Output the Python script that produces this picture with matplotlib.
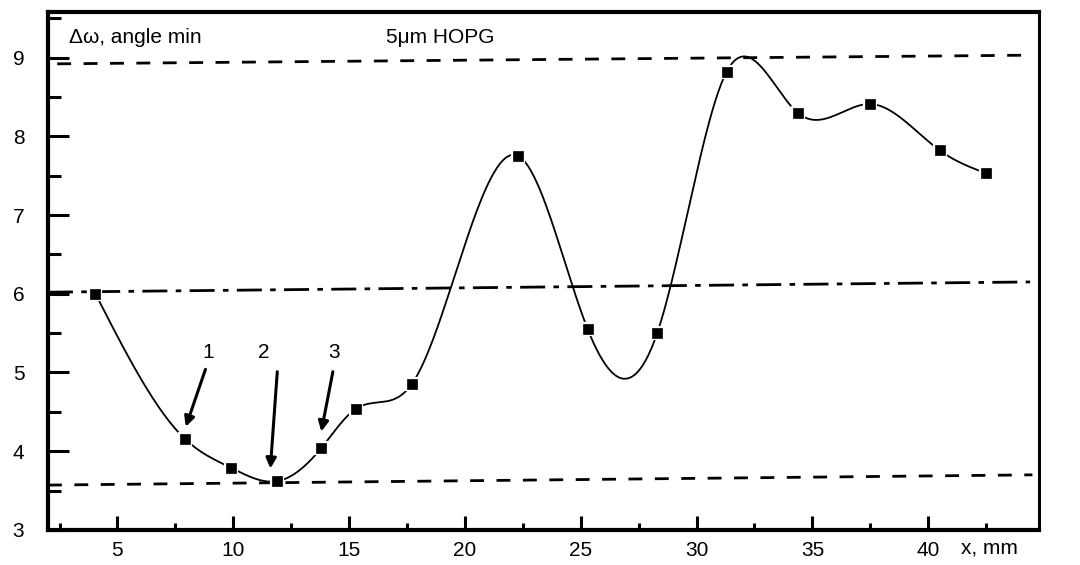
import numpy as np
import matplotlib
matplotlib.use('Agg')
import matplotlib.pyplot as plt
from matplotlib.ticker import MultipleLocator

# data
x_mm = [4.05, 7.9, 9.9, 11.9, 13.8, 15.3, 17.7, 22.3, 25.3, 28.3, 31.3, 34.4, 37.5, 40.5, 42.5]
d_omega = [6.0, 4.16, 3.79, 3.62, 4.04, 4.54, 4.85, 7.75, 5.55, 5.5, 8.82, 8.29, 8.41, 7.82, 7.53]

# reference lines (start, end levels; the scan is a little tilted)
upper_lvl = [8.92, 9.03]
mid_lvl = [6.02, 6.15]
lower_lvl = [3.57, 3.70]

arrow_labels = ['1', '2', '3']
arrow_tips = [(7.95, 4.31), (11.6, 3.78), (13.8, 4.25)]
arrow_tails = [(8.8, 5.04), (11.9, 5.01), (14.3, 5.01)]
label_pos = [(8.9, 5.25), (11.3, 5.25), (14.35, 5.25)]


def natural_spline(x, y, n=600):
    # plain natural cubic spline, just for drawing the smooth line
    x = np.asarray(x, float)
    y = np.asarray(y, float)
    k = len(x)
    h = np.diff(x)
    A = np.zeros((k, k))
    b = np.zeros(k)
    A[0, 0] = 1
    A[-1, -1] = 1
    for i in range(1, k - 1):
        A[i, i - 1] = h[i - 1]
        A[i, i] = 2 * (h[i - 1] + h[i])
        A[i, i + 1] = h[i]
        b[i] = 3 * ((y[i + 1] - y[i]) / h[i] - (y[i] - y[i - 1]) / h[i - 1])
    c = np.linalg.solve(A, b)
    xs = np.linspace(x[0], x[-1], n)
    idx = np.clip(np.searchsorted(x, xs) - 1, 0, k - 2)
    dx = xs - x[idx]
    bb = (y[idx + 1] - y[idx]) / h[idx] - h[idx] * (2 * c[idx] + c[idx + 1]) / 3
    dd = (c[idx + 1] - c[idx]) / (3 * h[idx])
    ys = y[idx] + bb * dx + c[idx] * dx ** 2 + dd * dx ** 3
    return xs, ys


plt.rcParams['font.family'] = ['Liberation Sans', 'DejaVu Sans']

fig = plt.figure(figsize=(10.8, 5.65), dpi=100)
ax = fig.add_axes([0.0444, 0.062, 0.918, 0.917])
ax.set_xlim(2.0, 44.8)
ax.set_ylim(3, 9.58)

# reference lines
ax.plot([2.4, 44.4], upper_lvl, color='black', lw=2, ls=(0, (5, 4.5)))
ax.plot([2.0, 44.4], mid_lvl, color='black', lw=2, ls=(0, (9, 3, 2, 3)))
ax.plot([2.0, 44.5], lower_lvl, color='black', lw=2, ls=(0, (5, 4.5)))

xs, ys = natural_spline(x_mm, d_omega)
ax.plot(xs, ys, color='black', lw=1.3)
ax.plot(x_mm, d_omega, ls='none', marker='s', ms=7.5, mfc='black', mec='white', mew=3)
ax.plot(x_mm, d_omega, ls='none', marker='s', ms=7, mfc='black', mec='black', mew=0.5)

for lab, tip, tail, pos in zip(arrow_labels, arrow_tips, arrow_tails, label_pos):
    ax.annotate('', xy=tip, xytext=tail,
                arrowprops=dict(arrowstyle='-|>', color='black', lw=2.2,
                                mutation_scale=15, shrinkA=0, shrinkB=0))
    ax.text(pos[0], pos[1], lab, fontsize=15, ha='center', va='center')

ax.text(2.9, 9.25, 'Δω, angle min', fontsize=15, ha='left', va='center')
ax.text(16.6, 9.25, '5μm HOPG', fontsize=15, ha='left', va='center')

ax.xaxis.set_major_locator(MultipleLocator(5))
ax.xaxis.set_minor_locator(MultipleLocator(2.5))
ax.yaxis.set_major_locator(MultipleLocator(1))
ax.yaxis.set_minor_locator(MultipleLocator(0.5))
ax.tick_params(axis='x', which='major', direction='in', length=10, width=2.2,
               labelsize=15, pad=8)
ax.tick_params(axis='x', which='minor', direction='in', length=5, width=2.2)
ax.tick_params(axis='y', which='major', direction='in', length=15, width=2.2,
               labelsize=15, pad=17)
ax.tick_params(axis='y', which='minor', direction='in', length=9, width=2.2)

for side in ['left', 'bottom', 'top']:
    ax.spines[side].set_linewidth(3)
ax.spines['right'].set_linewidth(2.2)

ax.text(41.4, 2.77, 'x, mm', fontsize=15, ha='left', va='center', clip_on=False)

fig.savefig('out.png', dpi=100)
